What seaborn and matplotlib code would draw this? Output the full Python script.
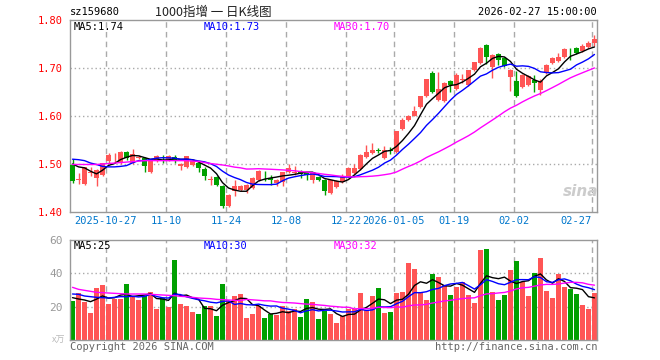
import numpy as np
import pandas as pd
import matplotlib
matplotlib.use("Agg")
import matplotlib.pyplot as plt
import seaborn as sns

sns.set_style("white")
plt.rcParams["font.family"] = ["DejaVu Sans Mono", "Noto Sans CJK SC"]

# ---------------- data ----------------
tick_idx = [6, 16, 26, 36, 46, 54, 64, 74, 87]
tick_labels = ["2025-10-27", "11-10", "11-24", "12-08", "12-22",
               "2026-01-05", "01-19", "02-02", "02-27"]

open_ = [1.497, 1.467, 1.458, 1.481, 1.470, 1.478, 1.507, 1.512, 1.503, 1.524,
         1.502, 1.513, 1.512, 1.483, 1.508, 1.511, 1.508, 1.514, 1.495, 1.493,
         1.498, 1.502, 1.490, 1.467, 1.472, 1.455, 1.413, 1.443, 1.445, 1.445,
         1.450, 1.466, 1.475, 1.470, 1.460, 1.462, 1.483, 1.482, 1.485, 1.482,
         1.466, 1.472, 1.466, 1.440, 1.452, 1.462, 1.473, 1.481, 1.490, 1.515,
         1.522, 1.529, 1.513, 1.529, 1.526, 1.572, 1.592, 1.601, 1.619, 1.642,
         1.690, 1.634, 1.632, 1.672, 1.656, 1.676, 1.665, 1.696, 1.710, 1.747,
         1.703, 1.730, 1.721, 1.681, 1.672, 1.661, 1.665, 1.676, 1.655, 1.690,
         1.710, 1.714, 1.723, 1.732, 1.742, 1.735, 1.744, 1.752]
high = [1.510, 1.482, 1.494, 1.493, 1.489, 1.503, 1.523, 1.522, 1.527, 1.527,
        1.531, 1.518, 1.515, 1.507, 1.518, 1.519, 1.518, 1.519, 1.502, 1.517,
        1.508, 1.504, 1.493, 1.474, 1.476, 1.457, 1.437, 1.466, 1.457, 1.458,
        1.472, 1.487, 1.485, 1.478, 1.468, 1.484, 1.499, 1.495, 1.487, 1.484,
        1.484, 1.474, 1.468, 1.467, 1.467, 1.480, 1.494, 1.501, 1.520, 1.540,
        1.544, 1.533, 1.537, 1.535, 1.569, 1.596, 1.603, 1.620, 1.642, 1.678,
        1.693, 1.691, 1.670, 1.676, 1.690, 1.688, 1.696, 1.713, 1.743, 1.749,
        1.730, 1.732, 1.723, 1.697, 1.693, 1.687, 1.685, 1.686, 1.677, 1.708,
        1.722, 1.731, 1.741, 1.742, 1.744, 1.749, 1.756, 1.769]
low = [1.460, 1.459, 1.457, 1.476, 1.455, 1.476, 1.503, 1.502, 1.501, 1.509,
       1.500, 1.510, 1.483, 1.482, 1.505, 1.502, 1.506, 1.503, 1.487, 1.491,
       1.496, 1.483, 1.466, 1.457, 1.454, 1.408, 1.411, 1.433, 1.443, 1.440,
       1.448, 1.464, 1.464, 1.457, 1.454, 1.455, 1.481, 1.478, 1.471, 1.466,
       1.461, 1.464, 1.436, 1.438, 1.450, 1.460, 1.471, 1.479, 1.488, 1.513,
       1.520, 1.522, 1.511, 1.520, 1.523, 1.570, 1.590, 1.599, 1.617, 1.640,
       1.648, 1.631, 1.630, 1.649, 1.654, 1.669, 1.663, 1.694, 1.708, 1.709,
       1.679, 1.707, 1.703, 1.652, 1.640, 1.659, 1.663, 1.651, 1.644, 1.688,
       1.708, 1.712, 1.721, 1.717, 1.729, 1.733, 1.742, 1.745]
close = [1.464, 1.469, 1.493, 1.483, 1.488, 1.502, 1.519, 1.513, 1.524, 1.512,
         1.521, 1.515, 1.495, 1.506, 1.516, 1.510, 1.516, 1.508, 1.499, 1.516,
         1.506, 1.492, 1.476, 1.468, 1.457, 1.413, 1.436, 1.455, 1.455, 1.457,
         1.471, 1.485, 1.474, 1.467, 1.467, 1.483, 1.492, 1.483, 1.479, 1.478,
         1.483, 1.466, 1.443, 1.466, 1.464, 1.473, 1.492, 1.492, 1.519, 1.526,
         1.530, 1.527, 1.530, 1.528, 1.568, 1.592, 1.601, 1.611, 1.641, 1.677,
         1.651, 1.656, 1.669, 1.665, 1.686, 1.678, 1.695, 1.712, 1.742, 1.723,
         1.728, 1.717, 1.705, 1.695, 1.642, 1.686, 1.684, 1.669, 1.672, 1.707,
         1.721, 1.723, 1.740, 1.731, 1.731, 1.745, 1.752, 1.760]
volume = [23.4, 28.4, 23.0, 16.4, 31.4, 33.0, 21.6, 24.4, 24.4, 33.6,
          26.4, 24.0, 26.4, 29.0, 18.6, 25.0, 19.8, 48.0, 21.6, 20.4,
          17.0, 15.6, 20.4, 20.4, 14.4, 33.6, 23.4, 26.4, 27.6, 13.2,
          15.6, 20.4, 13.2, 15.6, 15.2, 20.4, 17.6, 18.4, 13.8, 24.6,
          23.0, 12.6, 17.6, 15.6, 10.4, 14.4, 18.6, 18.6, 28.4, 18.0,
          26.4, 31.4, 16.4, 17.0, 28.4, 29.0, 46.4, 42.8, 28.0, 24.0,
          39.8, 37.8, 33.0, 27.0, 32.0, 34.6, 27.0, 22.4, 54.0, 54.6,
          29.0, 24.0, 27.0, 42.0, 47.4, 35.0, 26.4, 40.2, 49.2, 29.4,
          25.2, 39.8, 32.0, 30.6, 27.8, 21.0, 18.6, 28.4]

ma5_head = [1.500, 1.494, 1.492, 1.485]
ma10_head = [1.510, 1.509, 1.507, 1.502, 1.499, 1.495, 1.494, 1.494, 1.495]
ma30_head = [1.499, 1.499, 1.499, 1.499, 1.499, 1.500, 1.501, 1.502, 1.503, 1.504,
             1.505, 1.506, 1.507, 1.507, 1.507, 1.507, 1.507, 1.507, 1.507, 1.507,
             1.506, 1.5055, 1.503, 1.501, 1.4995, 1.498, 1.496, 1.4935, 1.492]
vma5_head = [25.4, 24.6, 24.0, 23.0]
vma10_head = [27.6, 27.4, 26.4, 26.0, 25.6, 25.4, 25.2, 25.6, 26.0]
vma30_head = [31.6, 30.4, 29.8, 29.2, 28.6, 28.4, 28.2, 28.0, 27.8, 27.6,
              27.6, 27.6, 27.6, 27.4, 27.2, 27.0, 26.8, 26.6, 26.2, 26.0,
              25.6, 25.2, 25.0, 24.8, 24.4, 24.2, 24.0, 23.8, 23.7]

price_ticks = [1.40, 1.50, 1.60, 1.70, 1.80]
vol_ticks = [20, 40, 60]
ma_labels = ["MA5:1.74", "MA10:1.73", "MA30:1.70"]
vma_labels = ["MA5:25", "MA10:30", "MA30:32"]


def ma(values, n, head):
    s = pd.Series(values, dtype=float).rolling(n).mean().to_numpy()
    s[:len(head)] = head
    return s


n = len(close)
idx = np.arange(n)
df = pd.DataFrame({"i": idx, "o": open_, "h": high, "l": low, "c": close, "v": volume})
df["ma5"] = ma(close, 5, ma5_head)
df["ma10"] = ma(close, 10, ma10_head)
df["ma30"] = ma(close, 30, ma30_head)
df["vma5"] = ma(volume, 5, vma5_head)
df["vma10"] = ma(volume, 10, vma10_head)
df["vma30"] = ma(volume, 30, vma30_head)

RED = "#ff5555"
GREEN = "#00a000"
colors = np.where(df["c"] >= df["o"], RED, GREEN)

W, H = 660, 360
fig = plt.figure(figsize=(W / 100, H / 100), dpi=100)
fig.patch.set_facecolor("white")


def px_axes(x0, y0, x1, y1):
    return fig.add_axes([x0 / W, 1 - y1 / H, (x1 - x0) / W, (y1 - y0) / H])


ax = px_axes(70, 20, 597, 212)
axv = px_axes(70, 240, 597, 340)

xlim = (-0.42, n - 0.58)
grid_c = "#aaaaaa"

for a in (ax, axv):
    a.set_xlim(*xlim)
    for t in tick_idx:
        a.axvline(t - 0.42, color=grid_c, lw=1, ls=(0, (4, 3)), zorder=0)
    for s in a.spines.values():
        s.set_color("#999999")
        s.set_linewidth(1)
    a.tick_params(length=0)

# ---- price panel ----
ax.set_ylim(1.40, 1.80)
for yv in [1.50, 1.60, 1.70]:
    ax.axhline(yv, color=grid_c, lw=1, ls=(0, (1, 2)), zorder=0)

body_bottom = np.minimum(df["o"], df["c"])
body_h = np.maximum(np.abs(df["c"] - df["o"]), 0.0012)
ax.vlines(df["i"], df["l"], df["h"], colors=colors, lw=1, zorder=2)
ax.bar(df["i"], body_h, bottom=body_bottom, width=0.83, color=colors, lw=0, zorder=3)

sns.lineplot(data=df, x="i", y="ma5", ax=ax, color="black", lw=1, estimator=None, zorder=4)
sns.lineplot(data=df, x="i", y="ma10", ax=ax, color="#0000ff", lw=1, estimator=None, zorder=4)
sns.lineplot(data=df, x="i", y="ma30", ax=ax, color="#ff00ff", lw=1, estimator=None, zorder=4)

ax.set_yticks(price_ticks)
ax.set_yticklabels([f"{v:.2f}" for v in price_ticks], color="#ff0000", fontsize=7.5)
ax.set_xticks([t - 0.42 for t in tick_idx])
ax.set_xticklabels(tick_labels, color="#0077cc", fontsize=7.5)
ax.get_xticklabels()[-1].set_horizontalalignment("right")
ax.tick_params(axis="y", pad=5)
ax.tick_params(axis="x", pad=3)
ax.set_xlabel("")
ax.set_ylabel("")

# ---- volume panel ----
axv.set_ylim(0, 60)
for yv in [20, 40]:
    axv.axhline(yv, color=grid_c, lw=1, ls=(0, (1, 2)), zorder=0)
axv.bar(df["i"], df["v"], width=0.83, color=colors, lw=0, zorder=2)
sns.lineplot(data=df, x="i", y="vma5", ax=axv, color="black", lw=1, estimator=None, zorder=4)
sns.lineplot(data=df, x="i", y="vma10", ax=axv, color="#0000ff", lw=1, estimator=None, zorder=4)
sns.lineplot(data=df, x="i", y="vma30", ax=axv, color="#ff00ff", lw=1, estimator=None, zorder=4)
axv.set_yticks(vol_ticks)
axv.set_yticklabels([str(v) for v in vol_ticks], color="#999999", fontsize=8)
axv.tick_params(axis="y", pad=5)
axv.set_xticks([])
axv.set_xlabel("")
axv.set_ylabel("")


def ftext(x, y, s, **kw):
    fig.text(x / W, 1 - y / H, s, va="center", **kw)


# header
ftext(70, 12, "sz159680", fontsize=7.5, color="#000000")
ftext(213, 12, "1000指增 一 日K线图", fontsize=9, color="#222222", ha="center",
      family=["Noto Sans CJK SC", "DejaVu Sans"])
ftext(597, 12, "2026-02-27 15:00:00", fontsize=7.5, color="#000000", ha="right")

# MA legends
ma_cols = ["#000000", "#0000ff", "#ff00ff"]
for xx, lab, cc in zip([74, 204, 334], ma_labels, ma_cols):
    ftext(xx, 27, lab, fontsize=7.5, color=cc)
for xx, lab, cc in zip([74, 204, 334], vma_labels, ma_cols):
    ftext(xx, 246, lab, fontsize=7.5, color=cc)

# footer
ftext(52, 340, "x万", fontsize=6.5, color="#bbbbbb", family=["Noto Sans CJK SC", "DejaVu Sans"])
ftext(70, 347, "Copyright 2026 SINA.COM", fontsize=7.5, color="#666666")
ftext(597, 347, "http://finance.sina.com.cn", fontsize=7.5, color="#666666", ha="right")

# watermark
ftext(581, 192, "sina", fontsize=11, color="#cccccc", ha="center", fontweight="bold",
      style="italic", family=["DejaVu Sans"])

fig.savefig("out.png", dpi=100, facecolor="white")
